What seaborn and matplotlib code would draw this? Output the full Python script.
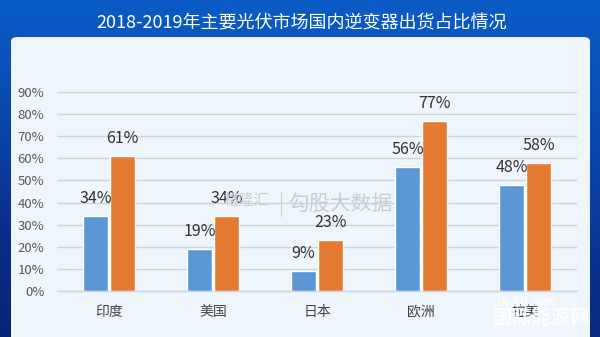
import numpy as np
import pandas as pd
import matplotlib
matplotlib.use("Agg")
import matplotlib.pyplot as plt
from matplotlib.patches import FancyBboxPatch
from matplotlib.colors import LinearSegmentedColormap
from matplotlib.ticker import FuncFormatter
import seaborn as sns

# Share of domestic inverter shipments by major PV market (%)
markets = ["印度", "美国", "日本", "欧洲", "拉美"]
years = ["2018", "2019"]
share_2018 = [34, 19, 9, 56, 48]
share_2019 = [61, 34, 23, 77, 58]
y_ticks = [0, 10, 20, 30, 40, 50, 60, 70, 80, 90]
title = "2018-2019年主要光伏市场国内逆变器出货占比情况"

df = pd.DataFrame({
    "market": markets * 2,
    "year": [years[0]] * len(markets) + [years[1]] * len(markets),
    "share": share_2018 + share_2019,
})

sns.set_style("white")
plt.rcParams["font.family"] = ["Noto Sans CJK SC", "DejaVu Sans"]

W, H, DPI = 600, 337, 100
fig = plt.figure(figsize=(W / DPI, H / DPI), dpi=DPI)

# blue gradient backdrop
bg = fig.add_axes([0, 0, 1, 1], zorder=0)
bg.set_axis_off()
cmap = LinearSegmentedColormap.from_list("bgblue", ["#0b5cc6", "#0a49ae", "#0a2f8c", "#082573"])
gy = np.linspace(0, 1, 256).reshape(-1, 1)
gx = np.linspace(0, 1, 256).reshape(1, -1)
grad = 0.8 * gy + 0.2 * (1 - gx) * gy
bg.imshow(grad, cmap=cmap, aspect="auto", extent=[0, 1, 0, 1], origin="upper")
bg.set_xlim(0, 1)
bg.set_ylim(0, 1)

# light content panel
px0, px1 = 11 / W, 590 / W
py_top = 1 - 37 / H
panel = FancyBboxPatch((px0, -0.1), px1 - px0, py_top + 0.1,
                       boxstyle="round,pad=0,rounding_size=0.012",
                       transform=fig.transFigure, facecolor="#eef5fd",
                       edgecolor="none", zorder=1)
bg.add_patch(panel)

fig.text(0.502, 1 - 23 / H, title, color="white", fontsize=13,
         ha="center", va="center", zorder=3)

# bar chart
left, right = 57 / W, 577 / W
bottom, top = 1 - 291 / H, 1 - 92 / H
ax = fig.add_axes([left, bottom, right - left, top - bottom], zorder=2)
ax.patch.set_alpha(0)

sns.barplot(data=df, x="market", y="share", hue="year", order=markets,
            hue_order=years, palette=["#5b97d5", "#e57a33"], saturation=1,
            width=0.52, gap=0.11, legend=False, ax=ax, zorder=3)

ax.set_ylim(0, 90)
ax.set_yticks(y_ticks)
ax.yaxis.set_major_formatter(FuncFormatter(lambda v, _: f"{v:.0f}%"))
ax.set_xlim(-0.5, len(markets) - 0.5)
ax.grid(axis="y", color="#cfd4da", linewidth=1.0, zorder=0)
ax.set_axisbelow(True)
for s in ["top", "right", "left"]:
    ax.spines[s].set_visible(False)
ax.spines["bottom"].set_color("#cfd4da")
ax.spines["bottom"].set_linewidth(1.0)
ax.tick_params(axis="y", length=0, labelsize=9.5, labelcolor="#595959", pad=9)
ax.tick_params(axis="x", length=0, labelsize=10, labelcolor="#444444", pad=10)
ax.set_xlabel("")
ax.set_ylabel("")

for cont in ax.containers:
    ax.bar_label(cont, labels=[f"{v:.0f}%" for v in cont.datavalues],
                 padding=6.5, fontsize=11.5, color="#333333", clip_on=False)

# watermarks
wm = "#c9ced4"
fig.text(224 / W, 1 - 200 / H, "格隆汇", color=wm, fontsize=11,
         ha="left", va="center", zorder=4)
fig.text(288 / W, 1 - 204 / H, "勾股大数据", color=wm, fontsize=15,
         ha="left", va="center", zorder=4)
fig.add_artist(plt.Line2D([281 / W, 281 / W], [1 - 192 / H, 1 - 216 / H],
                          transform=fig.transFigure, color=wm, lw=0.8, zorder=4))
fig.text(526 / W, 1 - 303 / H, "IN-EN.com", color="white", alpha=0.75,
         fontsize=8, fontweight="bold", style="italic", ha="center", va="center", zorder=4)
fig.text(541 / W, 1 - 318 / H, "国际能源网", color="white", alpha=0.8,
         fontsize=14, fontweight="bold", ha="center", va="center", zorder=4)

fig.savefig("out.png", dpi=DPI)
